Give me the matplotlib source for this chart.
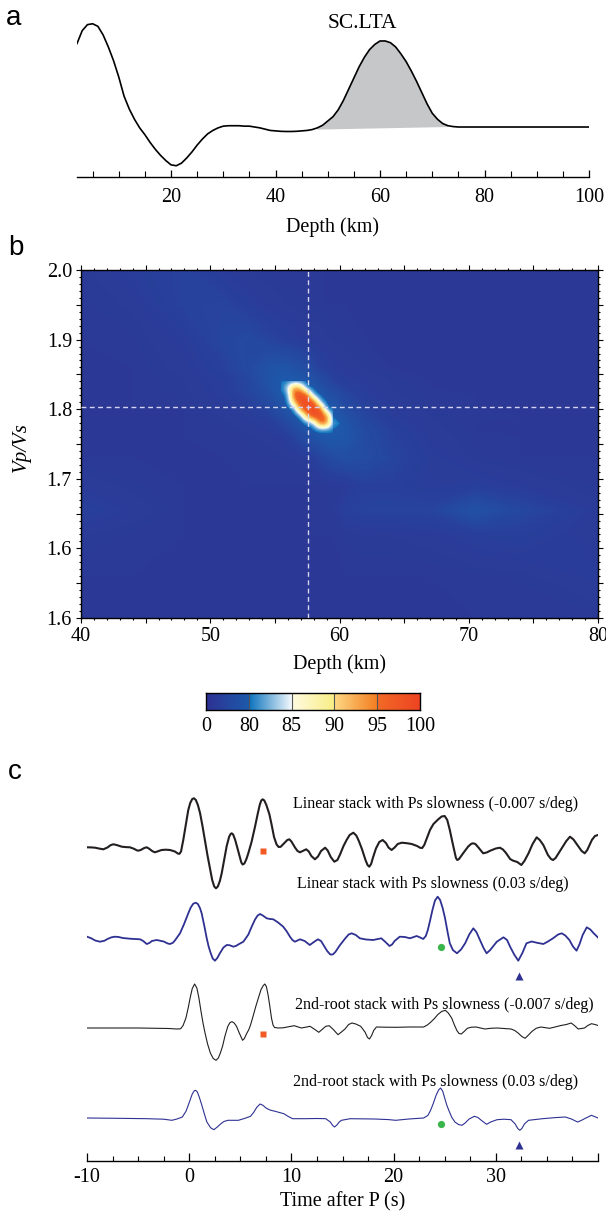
import numpy as np
import matplotlib
matplotlib.use('Agg')
import matplotlib.pyplot as plt
from matplotlib.colors import LinearSegmentedColormap
from matplotlib.patches import Rectangle

plt.rcParams['font.family'] = ['Liberation Serif', 'DejaVu Serif']

# ---------------- panel a: receiver function, station SC.LTA ----------------
rf_depth = [2, 3, 4, 5, 6, 7, 8, 9, 10, 11, 12, 13, 14, 15, 16, 17, 18, 19, 20,
            21, 22, 23, 24, 25, 26, 27, 28, 29, 30, 31, 32, 33, 34, 35, 36, 37,
            38, 39, 40, 41, 42, 43, 44, 45, 46, 47, 48, 49, 50, 51, 52, 53, 54,
            55, 56, 57, 58, 59, 60, 61, 62, 63, 64, 65, 66, 67, 68, 69, 70, 71,
            72, 73, 74, 75, 80, 85, 90, 95, 100]
rf_amp = [0.97, 1.12, 1.19, 1.20, 1.17, 1.07, 0.93, 0.77, 0.58, 0.36, 0.21,
          0.09, -0.01, -0.09, -0.18, -0.26, -0.33, -0.39, -0.44, -0.45, -0.42,
          -0.36, -0.29, -0.21, -0.14, -0.08, -0.04, -0.01, 0.01, 0.015, 0.015,
          0.015, 0.01, 0.01, 0.0, -0.01, -0.025, -0.04, -0.045, -0.05, -0.052,
          -0.052, -0.05, -0.045, -0.04, -0.03, -0.01, 0.02, 0.07, 0.12, 0.20,
          0.31, 0.44, 0.57, 0.70, 0.81, 0.90, 0.96, 1.0, 1.0, 0.98, 0.93, 0.85,
          0.76, 0.65, 0.53, 0.40, 0.27, 0.16, 0.09, 0.04, 0.015, 0.005, 0.0,
          0.0, 0.0, 0.0, 0.0, 0.0]
moho_span = [48, 73]          # shaded Moho Ps arrival
moho_base = [-0.03, 0.0]

# ---------------- panel b: H-k stacking grid ----------------
hk_depth = [40, 44, 48, 51, 53, 54.5, 55.5, 56, 56.5, 57, 57.5, 58, 58.5, 59,
            59.5, 60.5, 62, 64, 67, 70.5, 74, 80]
hk_vpvs = [1.5, 1.56, 1.62, 1.655, 1.69, 1.73, 1.76, 1.77, 1.78, 1.79, 1.80,
           1.81, 1.82, 1.83, 1.84, 1.86, 1.90, 1.95, 2.0]
hk_energy = [
    [15, 15, 15, 15, 15, 15, 15, 15, 15, 15, 15, 15, 15, 15, 15, 15, 15, 15, 15, 15, 15, 16],
    [15, 15, 15, 15, 15, 15, 15, 15, 15, 15, 15, 15, 15, 15, 15, 15, 15, 15, 15, 15.5, 17, 23],
    [18.5, 16, 15, 15, 15, 15, 15, 15, 15, 15, 15, 15, 15, 15, 15, 17, 18.5, 18.5, 20, 27, 29, 18],
    [31, 21, 15, 15, 15, 15, 15, 15, 15, 15, 15, 15.5, 16, 16, 17, 30, 35.5, 36, 36, 62, 42, 20],
    [21, 17, 15, 15, 15, 15, 15, 15, 15, 15, 15, 15.5, 16, 16.5, 17, 19, 30, 30, 24, 27, 22, 16],
    [15, 15, 15, 15, 15.5, 16.5, 17, 17.5, 18, 19, 22, 28, 36, 43, 50, 56, 51.5, 39, 24.5, 17, 15, 15],
    [15, 15, 15, 15.5, 17, 19.5, 22, 27, 34, 47, 55, 63, 69, 74, 76, 70.5, 50, 33.5, 21, 16, 15, 15],
    [15, 15, 15, 16, 19, 22, 30, 35, 48, 57, 65.5, 73, 79, 80, 79, 70, 48, 31.5, 20, 15, 15, 15],
    [15, 15, 15, 17, 21, 25.5, 35, 49, 58, 67, 76, 82, 96, 95.6, 81, 66, 44, 28, 19, 15, 15, 15],
    [15, 15, 15, 18.5, 23.5, 31, 50, 59, 68, 78, 93.3, 98.9, 99, 95.6, 79, 60, 39, 25, 18, 15.5, 15, 15],
    [15, 15, 15, 20.5, 27, 38, 58, 68, 78, 94.5, 99, 99, 98.3, 80, 72.5, 53, 34.5, 23.5, 17, 15, 15, 15],
    [15, 15, 17, 22, 31, 48, 66, 76, 91.5, 99, 99, 98.6, 82, 73.5, 64, 45.5, 29, 21, 16, 15, 15, 15],
    [15, 15, 17, 24, 35, 54, 73, 80, 97.2, 99, 97.6, 81, 74, 64, 55, 40, 26, 19, 16, 15, 15, 15],
    [15, 15, 18, 25, 40, 60, 77, 84, 94.5, 92, 79, 72, 64, 55, 46, 30, 24, 18, 15, 15, 15, 15],
    [15, 15, 18, 26, 40, 64, 78, 79, 79, 76, 70, 62, 53, 45, 33, 26, 21, 18, 15, 15, 15, 15],
    [15, 15, 20, 31, 47, 64.5, 68, 66, 61.5, 56, 50, 40, 32, 27, 24, 21, 18, 15, 15, 15, 15, 15],
    [15, 16, 23, 40, 46, 37, 30, 28, 26, 23, 22, 21, 20, 19, 18, 17, 15, 15, 15, 15, 15, 15],
    [16, 19, 34, 36, 26, 21, 19, 18, 18, 17, 17, 16, 16, 15, 15, 15, 15, 15, 15, 15, 15, 15],
    [17, 25, 34, 22, 18, 16, 15, 15, 15, 15, 15, 15, 15, 15, 15, 15, 15, 15, 15, 15, 15, 15],
]
peak_rows = slice(6, 15)      # 1.76 .. 1.84, regular 0.01 step
peak_cols = slice(6, 15)      # 55.5 .. 59.5 km, regular 0.5 km step
best_depth = 57.56
best_vpvs = 1.803
cbar_bounds = [0, 80, 85, 90, 95, 100]

# ---------------- panel c: Ps stacks ----------------
tr1_t = [-10.0, -9.6, -9.2, -8.8, -8.4, -8.0, -7.7, -7.43, -7.1, -6.6, -6.2,
         -5.8, -5.4, -5.15, -4.98, -4.75, -4.4, -4.16, -3.95, -3.6, -3.35, -3.05,
         -2.7, -2.3, -1.88, -1.4, -1.1, -0.95, -0.8, -0.58, -0.3, -0.09, 0.1,
         0.3, 0.47, 0.65, 0.85, 1.06, 1.3, 1.55, 1.8, 2.04, 2.25, 2.45, 2.62,
         2.8, 3.0, 3.18, 3.45, 3.67, 3.9, 4.05, 4.16, 4.3, 4.5, 4.65, 4.95, 5.1,
         5.23, 5.4, 5.6, 5.79, 6.1, 6.44, 6.7, 6.9, 7.05, 7.19, 7.35, 7.55, 7.84,
         8.05, 8.3, 8.55, 8.75, 8.95, 9.28, 9.6, 9.8, 10.0, 10.35, 10.6, 10.84,
         11.1, 11.45, 11.7, 11.95, 12.3, 12.6, 12.9, 13.3, 13.55, 13.85, 14.2,
         14.5, 14.76, 15.1, 15.4, 15.7, 16.06, 16.35, 16.6, 16.9, 17.25, 17.45,
         17.62, 17.8, 18.0, 18.28, 18.6, 18.93, 19.25, 19.5, 19.8, 20.1, 20.4,
         20.8, 21.3, 21.77, 22.3, 22.6, 22.8, 23.0, 23.3, 23.56, 23.9, 24.37,
         24.7, 25.0, 25.25, 25.5, 25.75, 25.95, 26.1, 26.23, 26.4, 26.8, 27.3,
         27.6, 27.78, 28.0, 28.3, 28.76, 29.1, 29.5, 30.0, 30.4, 30.7, 31.0,
         31.4, 31.7, 32.1, 32.5, 32.8, 33.2, 33.6, 34.0, 34.3, 34.65, 35.1, 35.4,
         35.6, 35.85, 36.45, 36.9, 37.26, 37.6, 37.98, 38.4, 38.7, 38.95, 39.4,
         39.7, 40.0]
tr1_a = [0.7, 0.6, 0.3, -0.6, -1.3, 0.5, 2.8, 3.7, 3.0, 1.3, 0.9, 0.7, -0.8,
         -2.2, -2.7, -2.0, 0.0, 0.7, -0.5, -3.2, -4.3, -3.2, -2.0, -1.7, -2.0,
         -3.5, -5.6, -5.8, -3.5, 8.0, 25.0, 38.0, 45.0, 49.0, 49.7, 48.0, 43.0,
         35.0, 22.0, 7.0, -8.0, -21.0, -32.0, -38.5, -40.3, -38.5, -33.0, -25.3,
         -10.0, 2.0, 11.0, 14.0, 14.7, 13.5, 8.0, 2.5, -9.0, -14.5, -16.5, -15.5,
         -11.0, -5.0, 6.0, 21.3, 34.0, 43.0, 47.5, 48.7, 47.5, 43.0, 34.0, 24.0,
         11.0, 3.5, 1.0, 1.2, 4.7, 8.0, 8.7, 6.5, 0.5, -3.0, -4.3, -3.0, -1.3,
         -3.5, -8.0, -11.3, -8.5, -3.0, 0.3, -2.5, -9.0, -13.7, -12.0, -6.5, 2.0,
         8.0, 13.0, 15.3, 12.5, 7.0, -1.0, -12.0, -17.0, -18.7, -16.0, -9.0,
         -0.3, 6.0, 8.0, 5.0, 0.5, -2.0, 0.5, 4.0, 5.3, 4.8, 4.0, 2.0, 0.2, 0.0,
         3.0, 11.0, 18.0, 24.0, 28.7, 31.5, 32.0, 28.0, 18.0, 6.0, -3.0, -10.0,
         -12.0, -11.0, -5.3, 1.5, 4.2, 4.7, 4.0, 0.5, -5.3, -4.5, -2.5, -0.5,
         0.3, -1.5, -5.0, -11.0, -12.7, -14.0, -17.0, -13.0, -5.3, 4.0, 10.7,
         8.0, 3.0, -7.0, -11.0, -12.0, -10.0, -0.3, 7.0, 11.3, 8.5, 3.0, -3.0,
         -5.3, -2.0, 8.0, 12.0, 13.0]

tr2_t = [-10.0, -9.6, -9.2, -8.73, -8.3, -8.0, -7.6, -7.26, -6.9, -6.5, -5.8,
         -4.8, -4.5, -4.16, -3.9, -3.65, -3.18, -2.5, -2.1, -1.88, -1.6, -1.4,
         -0.9, -0.5, -0.09, 0.15, 0.4, 0.63, 0.85, 1.05, 1.22, 1.5, 1.71, 1.9,
         2.1, 2.3, 2.52, 2.75, 3.0, 3.35, 3.67, 3.95, 4.32, 4.6, 4.8, 5.3, 5.79,
         6.1, 6.44, 6.7, 6.93, 7.2, 7.58, 7.9, 8.23, 8.7, 9.2, 9.55, 9.86, 10.1,
         10.35, 10.6, 10.84, 11.3, 11.8, 12.2, 12.6, 12.9, 13.2, 13.5, 13.8,
         14.05, 14.3, 14.76, 15.3, 15.6, 15.9, 16.3, 16.7, 17.3, 18.0, 18.8,
         19.2, 19.6, 19.85, 20.1, 20.6, 21.1, 21.6, 22.26, 22.6, 22.9, 23.15,
         23.35, 23.56, 23.8, 24.05, 24.31, 24.55, 24.8, 25.03, 25.3, 25.5, 25.8,
         26.2, 26.6, 27.0, 27.4, 27.8, 28.1, 28.45, 28.8, 29.1, 29.45, 30.1,
         30.75, 31.1, 31.4, 31.8, 32.2, 32.6, 33.0, 33.5, 34.0, 34.65, 35.1,
         35.6, 36.1, 36.45, 36.8, 37.2, 37.55, 37.9, 38.2, 38.5, 38.9, 39.25,
         39.6, 40.0]
tr2_a = [0.3, -1.2, -3.5, -4.7, -3.8, -2.0, -0.3, 0.3, 0.0, -1.0, -1.7, -2.3,
         -4.0, -7.0, -6.0, -4.0, -3.0, -4.5, -6.5, -7.0, -5.8, -3.5, 3.7, 13.0,
         23.7, 29.5, 33.3, 34.3, 33.0, 29.0, 23.7, 10.0, -1.0, -9.5, -16.0,
         -21.5, -23.7, -21.0, -16.3, -10.5, -8.0, -8.2, -9.7, -8.8, -7.5, -4.7,
         2.5, 10.0, 17.5, 21.5, 23.0, 21.5, 18.7, 18.0, 17.7, 14.5, 10.3, 5.5,
         0.3, -3.0, -4.7, -3.5, -2.3, -4.0, -8.0, -5.0, -2.3, -4.0, -9.0, -14.0,
         -17.5, -17.5, -15.0, -8.0, -1.0, 2.5, 3.7, 2.0, -1.3, -2.5, -3.0, -1.3,
         -5.0, -9.0, -7.5, -4.0, 0.3, 0.0, -1.3, 1.0, -0.5, -2.0, 1.0, 7.0, 16.0,
         27.0, 36.5, 40.3, 37.0, 29.0, 19.0, 4.0, -6.3, -13.0, -16.3, -12.5,
         -6.3, 2.5, 8.7, 5.0, -3.0, -11.0, -16.3, -13.0, -4.7, -0.3, -3.0, -9.7,
         -17.5, -23.7, -16.0, -6.3, -4.5, -5.7, -7.0, -4.5, -1.3, 2.5, 3.7, 1.5,
         -3.0, -9.5, -13.7, -7.0, 2.0, 9.7, 7.5, 3.5, -0.5]

tr3_t = [-10.0, -5.0, -2.0, -1.2, -0.84, -0.6, -0.32, -0.1, 0.09, 0.3, 0.53,
         0.75, 0.95, 1.15, 1.35, 1.56, 1.8, 2.07, 2.35, 2.62, 2.85, 3.05, 3.27,
         3.5, 3.78, 4.0, 4.19, 4.4, 4.64, 4.9, 5.22, 5.4, 5.6, 5.83, 6.0, 6.2,
         6.52, 6.8, 7.03, 7.25, 7.4, 7.55, 7.72, 7.89, 8.05, 8.2, 8.35, 8.74,
         9.2, 9.6, 10.28, 10.97, 11.4, 11.82, 12.3, 12.68, 13.0, 13.36, 13.7,
         14.1, 14.56, 14.9, 15.24, 15.6, 15.93, 16.3, 16.78, 17.2, 17.45, 17.64,
         17.85, 18.05, 18.32, 19.2, 20.2, 21.57, 22.94, 23.3, 23.62, 24.0, 24.31,
         24.7, 25.06, 25.35, 25.68, 25.95, 26.19, 26.4, 26.63, 26.9, 27.22, 27.6,
         28.07, 28.5, 28.93, 29.5, 30.12, 30.8, 31.49, 31.85, 32.18, 32.55,
         32.86, 33.2, 33.55, 33.95, 34.4, 35.26, 35.8, 36.28, 36.9, 37.38, 37.75,
         38.06, 38.68, 39.0, 39.36, 39.7, 40.0]
tr3_a = [0.0, 0.0, -0.5, -1.0, -0.8, 2.5, 10.0, 20.0, 30.0, 39.5, 44.0, 40.0,
         30.0, 17.0, 5.0, -5.5, -16.0, -25.0, -30.5, -32.3, -30.0, -25.0, -18.0,
         -8.0, 1.7, 5.5, 6.3, 5.0, 1.5, -5.0, -12.3, -10.5, -6.0, -1.7, 3.0,
         10.0, 21.7, 31.0, 38.5, 42.5, 44.0, 41.5, 33.0, 21.7, 10.0, 3.0, 0.5,
         0.0, 0.2, 1.0, 2.3, 0.0, 0.8, 1.7, -1.5, -4.3, -1.5, 1.7, 2.3, -1.5,
         -6.7, -4.0, -1.0, 3.5, 5.0, 4.0, 1.7, -4.0, -9.5, -11.0, -7.5, -2.5,
         1.0, 0.8, 0.7, 1.0, 1.0, 3.0, 5.7, 9.5, 13.3, 16.5, 17.7, 15.0, 10.0,
         3.0, -2.5, -5.5, -6.0, -3.5, -0.3, 0.8, 1.0, 0.0, -1.0, -0.3, 0.0, -0.5,
         -1.0, -2.5, -5.0, -8.5, -10.3, -7.0, -3.3, -0.3, 1.0, -0.3, 1.0, 2.3,
         3.5, 5.0, 2.0, -1.0, 0.0, 2.5, 4.3, 3.5, 2.5]

tr4_t = [-10.0, -7.0, -4.09, -2.5, -1.69, -1.2, -0.67, -0.3, 0.02, 0.3, 0.5,
         0.63, 0.8, 1.0, 1.22, 1.5, 1.73, 2.1, 2.41, 2.75, 3.1, 3.4, 3.78, 4.81,
         5.4, 6.0, 6.3, 6.6, 6.93, 7.2, 7.54, 7.9, 8.4, 9.26, 9.7, 10.11, 11.31,
         12.5, 13.36, 13.8, 14.05, 14.22, 14.45, 14.7, 14.9, 15.76, 18.15, 19.5,
         20.2, 21.5, 22.94, 23.35, 23.62, 23.9, 24.15, 24.4, 24.6, 24.8, 25.0,
         25.2, 25.4, 25.7, 26.0, 26.35, 26.7, 27.0, 27.39, 27.9, 28.25, 28.58,
         29.1, 29.5, 30.12, 30.8, 31.49, 31.9, 32.15, 32.35, 32.55, 32.8, 33.2,
         34.57, 35.7, 36.8, 37.4, 38.0, 38.35, 38.68, 39.36, 40.0]
tr4_a = [0.0, -0.3, -0.7, -1.2, -2.3, -1.0, 1.0, 7.0, 16.0, 24.0, 27.3, 27.7,
         26.0, 20.5, 13.3, 3.5, -4.0, -9.8, -11.7, -9.0, -5.7, -3.5, -2.3, -2.3,
         -0.5, 1.7, 5.5, 10.5, 14.0, 12.8, 9.8, 8.0, 6.7, 4.3, 1.5, -0.7, -0.7,
         -0.5, -0.7, -4.0, -7.5, -9.0, -7.0, -3.8, -2.3, -0.7, -1.0, -1.6, -2.3,
         -1.0, 0.0, 2.5, 7.7, 15.0, 22.5, 28.0, 30.0, 27.0, 20.0, 13.0, 7.7,
         0.5, -4.0, -6.5, -7.3, -5.0, -1.0, 1.7, 0.5, -2.3, -6.3, -4.0, -1.7,
         -1.2, -1.7, -6.0, -10.5, -12.3, -10.5, -6.0, -2.3, -0.7, 0.3, 1.0, -1.0,
         -4.0, -2.5, -0.7, 2.7, 0.0]

stack_labels = ['Linear stack with Ps slowness (-0.007 s/deg)',
                'Linear stack with Ps slowness (0.03 s/deg)',
                '2nd-root stack with Ps slowness (-0.007 s/deg)',
                '2nd-root stack with Ps slowness (0.03 s/deg)']
# phase picks: time (s) and offset below each trace
square_t, square_amp = 7.2, [-3.0, -6.0]        # traces 1 and 3
circle_t, circle_amp = 24.6, [-10.3, -5.7]      # traces 2 and 4
tri_t, tri_amp = 32.3, [-39.0, -26.7]           # traces 2 and 4

W, H = 606, 1219
fig = plt.figure(figsize=(W / 100, H / 100), dpi=100)


def box(x0, x1, ytop, ybot):
    return [x0 / W, 1 - ybot / H, (x1 - x0) / W, (ybot - ytop) / H]


tick_fs = 14.5
sans = ['Liberation Sans', 'DejaVu Sans']

# ---- a ----
ax1 = fig.add_axes(box(77, 589, 18, 177))
ax1.plot(rf_depth, rf_amp, color='black', lw=1.2, zorder=3)
i0 = rf_depth.index(moho_span[0])
i1 = rf_depth.index(moho_span[1])
poly_x = rf_depth[i0:i1 + 1] + [moho_span[1], moho_span[0]]
poly_y = rf_amp[i0:i1 + 1] + [moho_base[1], moho_base[0]]
ax1.fill(poly_x, poly_y, color='#c6c7c9', lw=0, zorder=2)
ax1.set_xlim(2, 100)
ax1.set_ylim(-0.581, 1.267)
for s in ['left', 'right', 'top']:
    ax1.spines[s].set_visible(False)
ax1.spines['bottom'].set_linewidth(1.0)
ax1.set_yticks([])
ax1.set_xticks([20, 40, 60, 80, 100])
ax1.set_xticks(np.arange(5, 100, 5), minor=True)
ax1.tick_params(axis='x', which='both', direction='in', labelsize=tick_fs, pad=8)
ax1.tick_params(axis='x', which='major', length=5, width=0.9)
ax1.tick_params(axis='x', which='minor', length=4, width=0.8)
ax1.set_xlabel('Depth (km)', fontsize=tick_fs, labelpad=7)
ax1.text(56.7, 1.2, 'SC.LTA', fontsize=15.5, ha='center', va='center')

# ---- b ----
cmap = LinearSegmentedColormap.from_list('hk', [
    (0.0, '#2e3192'), (0.2, '#1d5aab'), (0.2001, '#0a72bd'), (0.4, '#f3f9fd'),
    (0.4001, '#fffbe3'), (0.6, '#f9ee84'), (0.6001, '#fdd985'), (0.8, '#f47d21'),
    (0.8001, '#f26a26'), (1.0, '#ee4423')])
cpos = [0, 0.2, 0.4, 0.6, 0.8, 1.0]

ax2 = fig.add_axes(box(81, 598, 270, 618))
zn = np.interp(np.array(hk_energy), cbar_bounds, cpos)
cf = ax2.contourf(hk_depth, hk_vpvs, zn, levels=np.linspace(0, 1, 241),
                  cmap=cmap, vmin=0, vmax=1, antialiased=False)
cf.set_rasterized(True)

# the regular block around the maximum is drawn again with smooth resampling
pd = hk_depth[peak_cols]
pv = hk_vpvs[peak_rows]
hx = (pd[1] - pd[0]) / 2
hy = (pv[1] - pv[0]) / 2
im = ax2.imshow(zn[peak_rows, peak_cols], origin='lower', cmap=cmap,
                vmin=0, vmax=1, interpolation='bicubic',
                interpolation_stage='data', aspect='auto',
                extent=(pd[0] - hx, pd[-1] + hx, pv[0] - hy, pv[-1] + hy),
                zorder=2)
im.set_clip_path(Rectangle((pd[0], pv[0]), pd[-1] - pd[0], pv[-1] - pv[0],
                           transform=ax2.transData))

ax2.axvline(best_depth, color='#d4d4ee', lw=1.0, ls=(0, (3.5, 2.5)), zorder=3)
ax2.axhline(best_vpvs, color='#d4d4ee', lw=1.0, ls=(0, (3.5, 2.5)), zorder=3)
ax2.set_xlim(40, 80)
ax2.set_ylim(1.5, 2.0)
ax2.set_xticks(np.arange(40, 81, 5))
ax2.set_xticklabels(['40', '', '50', '', '60', '', '70', '', '80'])
ax2.set_xticks(np.arange(40, 81, 1), minor=True)
ax2.set_yticks(np.arange(1.5, 2.001, 0.05))
ax2.set_yticklabels(['1.6', '', '1.6', '', '1.7', '', '1.8', '', '1.9', '', '2.0'])
ax2.set_yticks(np.arange(1.5, 2.001, 0.01), minor=True)
ax2.tick_params(which='both', direction='out', top=True, right=True,
                labelsize=tick_fs, width=0.8)
ax2.tick_params(which='major', length=3.5, pad=3)
ax2.tick_params(which='minor', length=1.5)
for s in ax2.spines.values():
    s.set_linewidth(1.0)
ax2.set_xlabel('Depth (km)', fontsize=tick_fs, labelpad=6)
fig.text(21 / W, 1 - 447 / H, 'Vp/Vs', rotation=90, fontsize=15,
         fontstyle='italic', ha='center', va='center')

cax = fig.add_axes(box(206, 420, 693, 710))
cax.imshow(np.linspace(0, 1, 512).reshape(1, -1), aspect='auto', cmap=cmap,
           extent=(0, 1, 0, 1))
for p in cpos[1:-1]:
    cax.axvline(p, color='#555555', lw=0.8)
cax.set_xlim(0, 1)
cax.set_yticks([])
cax.set_xticks(cpos)
cax.set_xticklabels([str(b) for b in cbar_bounds])
cax.tick_params(length=0, labelsize=tick_fs, pad=5)
for s in cax.spines.values():
    s.set_linewidth(1.0)

# ---- c ----
ax3 = fig.add_axes(box(87, 598, 785, 1161))
base = [313, 224, 133, 43]
ax3.plot(tr1_t, np.array(tr1_a) + base[0], color='#231f20', lw=1.5)
ax3.plot(tr2_t, np.array(tr2_a) + base[1], color='#2e3192', lw=1.3)
ax3.plot(tr3_t, np.array(tr3_a) + base[2], color='#231f20', lw=0.8)
ax3.plot(tr4_t, np.array(tr4_a) + base[3], color='#2e3192', lw=0.8)
ax3.plot([square_t] * 2, [base[0] + square_amp[0], base[2] + square_amp[1]],
         ls='none', marker='s', ms=4.8, color='#f15a24', mec='none')
ax3.plot([circle_t] * 2, [base[1] + circle_amp[0], base[3] + circle_amp[1]],
         ls='none', marker='o', ms=5.2, color='#39b54a', mec='none')
ax3.plot([tri_t] * 2, [base[1] + tri_amp[0], base[3] + tri_amp[1]],
         ls='none', marker='^', ms=6.2, color='#2e3192', mec='none')
label_x = [10.13, 10.58, 10.33, 10.13]
label_y = [357, 277, 156, 79]
for lx, ly, txt in zip(label_x, label_y, stack_labels):
    ax3.text(lx, ly, txt, fontsize=11.5, ha='left', va='center')
ax3.set_xlim(-10, 40)
ax3.set_ylim(0, 376)
for s in ['left', 'right', 'top']:
    ax3.spines[s].set_visible(False)
ax3.spines['bottom'].set_linewidth(1.0)
ax3.set_yticks([])
ax3.set_xticks([-10, 0, 10, 20, 30, 40])
ax3.set_xticklabels(['-10', '0', '10', '20', '30', ''])
ax3.set_xticks(np.arange(-7.5, 40, 2.5), minor=True)
ax3.tick_params(axis='x', which='both', direction='in', labelsize=tick_fs, pad=5)
ax3.tick_params(axis='x', which='major', length=6, width=0.9)
ax3.tick_params(axis='x', which='minor', length=3.5, width=0.8)
ax3.set_xlabel('Time after P (s)', fontsize=tick_fs, labelpad=4)

# panel letters
fig.text(6 / W, 1 - 25 / H, 'a', fontsize=20, family=sans, va='baseline')
fig.text(8 / W, 1 - 255 / H, 'b', fontsize=20, family=sans, va='baseline')
fig.text(8 / W, 1 - 779 / H, 'c', fontsize=20, family=sans, va='baseline')

fig.savefig('out.png', dpi=100)
